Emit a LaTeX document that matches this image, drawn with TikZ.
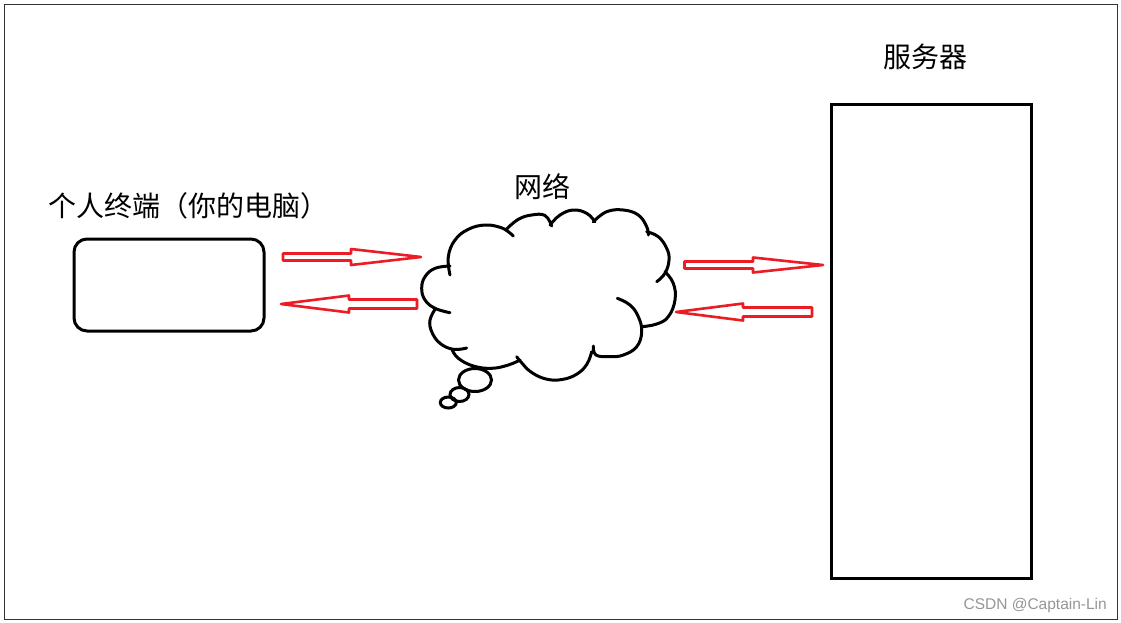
\documentclass[tikz,border=0pt]{standalone}
\usepackage{fontspec}
\newfontfamily\cjk{Noto Sans CJK SC}
\newfontfamily\wm{Liberation Sans}
\definecolor{paintred}{RGB}{237,28,36}
\definecolor{wmgray}{RGB}{150,150,150}
\begin{document}
\begin{tikzpicture}[x=1pt,y=-1pt,
  frameline/.style={draw=black!80,line width=1pt},
  boxline/.style={draw=black,line width=3pt},
  cloudline/.style={draw=black,line width=3pt,line cap=round},
  blockarrow/.style={draw=paintred,line width=2.6pt,line join=round},
  label/.style={font=\cjk\fontsize{28}{30}\selectfont,inner sep=0pt},
  every node/.style={inner sep=0pt}]
\useasboundingbox (0,0) rectangle (1121,622);
\fill[white] (0,0) rectangle (1121,622);
\draw[frameline] (4,4) rectangle (1117,619);

% personal terminal
\node[boxline,rounded corners=13pt,minimum width=190pt,minimum height=92pt] (pc) at (169,285) {};
\node[label] (pclabel) at (188,206) {个人终端（你的电脑）};

% server
\node[boxline,minimum width=200pt,minimum height=474pt] (server) at (931,341) {};
\node[label] (serverlabel) at (925,57) {服务器};

% network cloud
\node[label] (netlabel) at (542,187) {网络};
\begin{scope}[cloudline]
\draw plot[smooth,tension=0.7] coordinates {(450,275) (448.3,256.7) (455,240) (468.3,229.3) (485,225) (500,227.3) (508.3,231.7) (513.3,236)};
\draw plot[smooth,tension=0.7] coordinates {(506.7,229) (518.3,219.3) (531.7,215) (545,215.5) (551.7,226)};
\draw plot[smooth,tension=0.7] coordinates {(550,225) (560,215) (573.3,210) (586.7,213.3) (595,221.7)};
\draw plot[smooth,tension=0.7] coordinates {(593.3,221.7) (606.7,211.7) (623.3,210) (638.3,215) (646.7,226.7) (648.3,235)};
\draw plot[smooth,tension=0.7] coordinates {(646.7,231.7) (658.3,236.7) (666.7,248.3) (669,260) (665,273.3) (656.7,281.7)};
\draw plot[smooth,tension=0.7] coordinates {(665,271.7) (673.3,283.3) (675,300) (668.3,316.7) (656.7,324) (641.7,326.7)};
\draw plot[smooth,tension=0.7] coordinates {(617.3,298.3) (630,305) (638.3,316.7) (641.7,331.7) (636.7,346.7) (623.3,355) (610,356.7) (596,355) (593.3,346)};
\draw plot[smooth,tension=0.7] coordinates {(591.7,351.7) (587,364) (577,374) (562,379.5) (546,379) (531,372) (521,362) (516.7,356.7)};
\draw plot[smooth,tension=0.7] coordinates {(520,360) (508.3,365) (491.7,368.3) (473.3,366) (458.3,358.3) (452.3,350)};
\draw plot[smooth,tension=0.7] coordinates {(466.7,348) (453.3,349.3) (440,343.3) (431.7,331.7) (430,320) (435,309.5)};
\draw plot[smooth,tension=0.7] coordinates {(450,312.7) (435,308.3) (425,300) (421.7,288.3) (425,276.7) (435,268.3) (450,266)};
\end{scope}
\draw[cloudline] (475,380) ellipse [x radius=16.5,y radius=11.5];
\draw[cloudline] (459.5,394.5) ellipse [x radius=9.5,y radius=7];
\draw[cloudline] (448.3,402.5) ellipse [x radius=8,y radius=5.5];

% block arrows
\draw[blockarrow] (283,253.5) -- (351,253.5) -- (351,249) -- (421,257) -- (351,265) -- (351,260.5) -- (283,260.5) -- cycle;
\draw[blockarrow] (417,299.5) -- (349,299.5) -- (349,295.5) -- (281,304) -- (349,312.5) -- (349,308.5) -- (417,308.5) -- cycle;
\draw[blockarrow] (684.5,261.5) -- (753,261.5) -- (753,257.5) -- (823,265) -- (753,272.5) -- (753,268.5) -- (684.5,268.5) -- cycle;
\draw[blockarrow] (812,307.5) -- (743,307.5) -- (743,303.5) -- (676,312) -- (743,320.5) -- (743,316.5) -- (812,316.5) -- cycle;

% watermark
\node[font=\wm\fontsize{15.5}{17}\selectfont,text=wmgray,anchor=east] (mark) at (1107,605) {CSDN @Captain-Lin};
\end{tikzpicture}
\end{document}
